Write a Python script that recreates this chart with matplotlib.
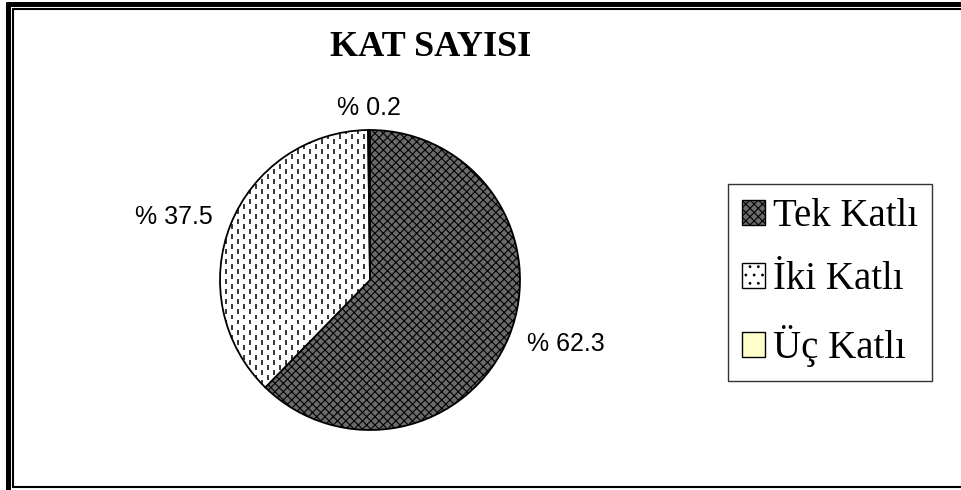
import matplotlib.pyplot as plt
import numpy as np
from matplotlib.patches import Patch
from matplotlib.lines import Line2D
from matplotlib.collections import LineCollection

# Data
categories = ['Tek Katlı', 'İki Katlı', 'Üç Katlı']
shares = [62.3, 37.5, 0.2]
title = 'KAT SAYISI'

W, H = 961, 490
fig = plt.figure(figsize=(W / 100, H / 100), dpi=100)
fig.patch.set_facecolor('white')

# pie axes: a 300x300 px square centred at (370, 280)
ax = fig.add_axes([220 / W, (H - 430) / H, 300 / W, 300 / H])

plt.rcParams['hatch.linewidth'] = 0.8
wedges, _ = ax.pie(shares, startangle=90, counterclock=False, radius=1,
                   colors=['#6a6a6a', 'white', '#ffffcc'],
                   wedgeprops=dict(edgecolor='black', linewidth=1.3))
wedges[0].set_hatch('xxxx')
ax.set_xlim(-1, 1)
ax.set_ylim(-1, 1)
ax.axis('off')

# short vertical dashes inside the second slice
segs = []
dx, dy, dl = 0.08, 0.067, 0.033
for j, y in enumerate(np.arange(-1.0, 1.0, dy / 2)):
    off = (j % 2) * dx / 2
    for x in np.arange(-1.0 + off, 1.0, dx):
        segs.append([(x, y), (x, y + dl)])
dashes = LineCollection(segs, colors='black', linewidths=1.1)
ax.add_collection(dashes)
dashes.set_clip_path(wedges[1])

# percentage labels just outside each slice
for w, v in zip(wedges, shares):
    ang = np.deg2rad((w.theta1 + w.theta2) / 2)
    c, s = np.cos(ang), np.sin(ang)
    if abs(c) < 0.3:
        x, y = 1.1 * c, 1.1 * s
        ha, va = 'center', 'baseline'
    else:
        x, y = 1.13 * c, 1.13 * s
        ha, va = ('left' if c > 0 else 'right'), 'center'
    ax.text(x, y, '% ' + f'{v:.1f}', ha=ha, va=va, fontsize=18,
            family='Liberation Sans', clip_on=False)

fig.text(431 / W, 1 - 47 / H, title, ha='center', va='center',
         fontsize=26, fontweight='bold', family='Liberation Serif')

handles = [Patch(facecolor='#6a6a6a', edgecolor='black', hatch='xxxx'),
           Patch(facecolor='white', edgecolor='black', hatch='..'),
           Patch(facecolor='#ffffcc', edgecolor='black')]
leg = fig.legend(handles, categories, loc='upper left',
                 bbox_to_anchor=(728 / W, 1 - 184 / H),
                 prop=dict(family='Liberation Serif', size=28),
                 frameon=True, fancybox=False, shadow=False,
                 handlelength=0.6, handleheight=0.6, handletextpad=0.2,
                 labelspacing=0.68, borderpad=0.36, borderaxespad=0)
leg.get_frame().set_edgecolor('black')
leg.get_frame().set_linewidth(1.0)

# double border on the left and top, single at the bottom
def px_line(x0, y0, x1, y1, lw):
    fig.add_artist(Line2D([x0 / W, x1 / W], [1 - y0 / H, 1 - y1 / H],
                          transform=fig.transFigure, color='black',
                          linewidth=lw, solid_capstyle='butt'))

px_line(8, 2, 8, H, 3.6)
px_line(6, 4, W, 4, 3.6)
px_line(13, 8, 13, 486, 1.5)
px_line(12, 9, W, 9, 1.5)
px_line(12, 486.5, W, 486.5, 1.5)

fig.savefig('out.png', dpi=100)
